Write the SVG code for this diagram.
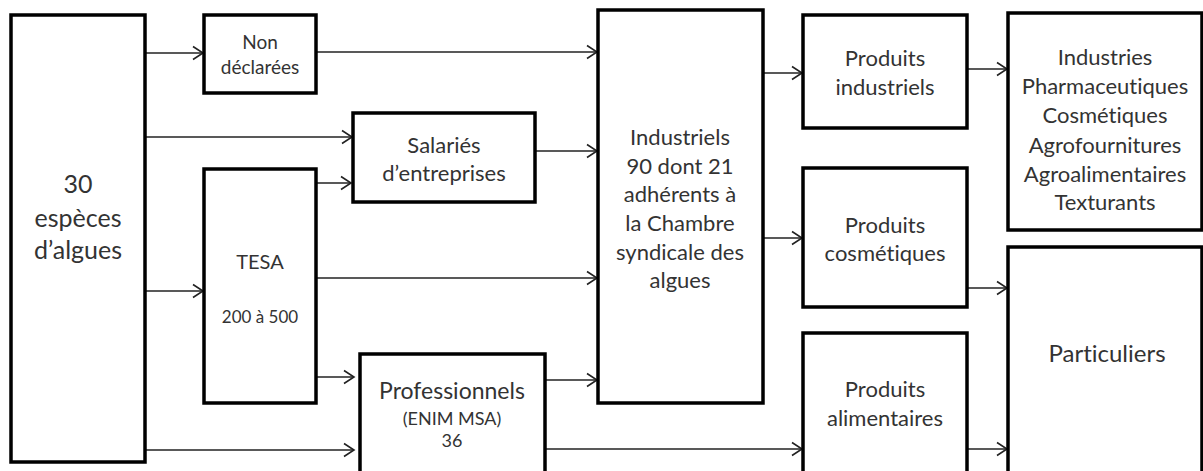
<svg xmlns="http://www.w3.org/2000/svg" width="1203" height="471" viewBox="0 0 1203 471">
<style>
.box{fill:#fff;stroke:#000;stroke-width:3.5}
.t{font-family:Lato,"Liberation Sans",sans-serif;fill:#333;text-anchor:middle;font-variant-ligatures:none;font-feature-settings:"liga" 0}
.m{font-size:22px}
.c line{stroke:#222;stroke-width:1.6;marker-end:url(#ah)}
</style>
<defs>
<marker id="ah" markerUnits="userSpaceOnUse" markerWidth="14" markerHeight="16" viewBox="-12 -8 14 16" refX="0" refY="0" orient="auto">
<path d="M-10,-6.5 L0,0 L-10,6.5" fill="none" stroke="#222" stroke-width="1.6"/>
</marker>
</defs>
<rect width="1203" height="471" fill="#fff"/>
<g class="c" id="connectors">
<line x1="145" y1="53" x2="203" y2="53"/>
<line x1="145" y1="137" x2="352" y2="137"/>
<line x1="145" y1="291" x2="203" y2="291"/>
<line x1="145" y1="450" x2="354" y2="450"/>
<line x1="316" y1="52" x2="597" y2="52"/>
<line x1="316" y1="183" x2="351" y2="183"/>
<line x1="316" y1="278" x2="597" y2="278"/>
<line x1="316" y1="377" x2="354" y2="377"/>
<line x1="535" y1="151" x2="597" y2="151"/>
<line x1="545" y1="380" x2="597" y2="380"/>
<line x1="545" y1="449" x2="802" y2="449"/>
<line x1="763" y1="73" x2="802" y2="73"/>
<line x1="763" y1="238" x2="802" y2="238"/>
<line x1="967" y1="69" x2="1007" y2="69"/>
<line x1="967" y1="288" x2="1007" y2="288"/>
<line x1="967" y1="449" x2="1007" y2="449"/>
</g>
<g id="especes">
<rect class="box" x="11" y="15" width="134" height="447"/>
<text class="t" x="78" y="193" font-size="25">30</text>
<text class="t" x="78" y="227" font-size="25">espèces</text>
<text class="t" x="78" y="259" font-size="25">d’algues</text>
</g>
<g id="non-declarees">
<rect class="box" x="204" y="15" width="112" height="78"/>
<text class="t" x="260" y="49" font-size="19">Non</text>
<text class="t" x="260" y="74" font-size="19">déclarées</text>
</g>
<g id="tesa">
<rect class="box" x="204" y="169" width="112" height="234"/>
<text class="t" x="260" y="269" font-size="20">TESA</text>
<text class="t" x="260" y="323" font-size="17">200 à 500</text>
</g>
<g id="salaries">
<rect class="box" x="353" y="113" width="182" height="89"/>
<text class="t m" x="444" y="153">Salariés</text>
<text class="t m" x="444" y="181">d’entreprises</text>
</g>
<g id="professionnels">
<rect class="box" x="360" y="354" width="185" height="140"/>
<text class="t" x="452" y="399" font-size="23">Professionnels</text>
<text class="t" x="452" y="425" font-size="18">(ENIM MSA)</text>
<text class="t" x="452" y="447" font-size="18">36</text>
</g>
<g id="industriels">
<rect class="box" x="598" y="10" width="165" height="393"/>
<text class="t m" x="680" y="145">Industriels</text>
<text class="t m" x="680" y="174">90 dont 21</text>
<text class="t m" x="680" y="202">adhérents à</text>
<text class="t m" x="680" y="231">la Chambre</text>
<text class="t m" x="680" y="260">syndicale des</text>
<text class="t m" x="680" y="288">algues</text>
</g>
<g id="produits-industriels">
<rect class="box" x="803" y="15" width="164" height="113"/>
<text class="t m" x="885" y="66">Produits</text>
<text class="t m" x="885" y="95">industriels</text>
</g>
<g id="produits-cosmetiques">
<rect class="box" x="803" y="168" width="164" height="139"/>
<text class="t m" x="885" y="233">Produits</text>
<text class="t m" x="885" y="261">cosmétiques</text>
</g>
<g id="produits-alimentaires">
<rect class="box" x="803" y="333" width="164" height="160"/>
<text class="t m" x="885" y="397">Produits</text>
<text class="t m" x="885" y="426">alimentaires</text>
</g>
<g id="industries">
<rect class="box" x="1008" y="13" width="194" height="217"/>
<text class="t m" x="1105" y="65">Industries</text>
<text class="t m" x="1105" y="94">Pharmaceutiques</text>
<text class="t m" x="1105" y="123">Cosmétiques</text>
<text class="t m" x="1105" y="153">Agrofournitures</text>
<text class="t m" x="1105" y="182">Agroalimentaires</text>
<text class="t m" x="1105" y="210">Texturants</text>
</g>
<g id="particuliers">
<rect class="box" x="1008" y="247" width="194" height="246"/>
<text class="t" x="1107" y="362" font-size="24">Particuliers</text>
</g>
</svg>
